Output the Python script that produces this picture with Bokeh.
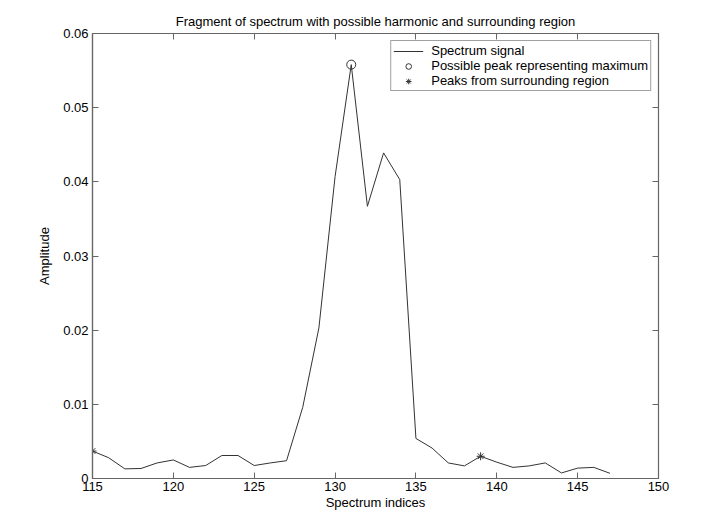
from bokeh.plotting import figure
from bokeh.models import (LinearAxis, FixedTicker, CustomJSTickFormatter, Legend,
                          LegendItem, Range1d)
from bokeh.embed import file_html
from bokeh.resources import INLINE

# ---- data ----
indices = [115, 116, 117, 118, 119, 120, 121, 122, 123, 124, 125, 126, 127, 128, 129,
           130, 131, 132, 133, 134, 135, 136, 137, 138, 139, 140, 141, 142, 143, 144,
           145, 146, 147]
amplitude = [0.0037, 0.0028, 0.0013, 0.00135, 0.0021, 0.0025, 0.0015, 0.00175, 0.0031,
             0.0031, 0.00175, 0.0021, 0.0024, 0.0096, 0.0203, 0.0407, 0.0558, 0.0367,
             0.0439, 0.0403, 0.0054, 0.0041, 0.0021, 0.0017, 0.0030, 0.0022, 0.0015,
             0.0017, 0.0021, 0.00075, 0.0014, 0.0015, 0.0007]
peak_x = [131]
peak_y = [0.0558]
surround_x = [115, 139]
surround_y = [0.0037, 0.0030]
x_ticks = [115, 120, 125, 130, 135, 140, 145, 150]
y_ticks = [0, 0.01, 0.02, 0.03, 0.04, 0.05, 0.06]

FONT = "Liberation Sans"
FS = "13px"
AX_COL = "#666666"
LINE_COL = "#333333"

p = figure(width=700, height=512, output_backend="svg", toolbar_location=None,
           x_range=Range1d(115, 150), y_range=Range1d(0, 0.06),
           min_border_left=92, min_border_right=42, min_border_top=33,
           min_border_bottom=34, x_axis_label="Spectrum indices",
           y_axis_label="Amplitude")
p.title.text = "Fragment of spectrum with possible harmonic and surrounding region"
p.title.align = "center"
p.title.text_font = FONT
p.title.text_font_size = FS
p.title.text_font_style = "normal"
p.title.text_color = "black"

p.grid.visible = False
p.outline_line_color = AX_COL
p.outline_line_width = 1.2

fmt = CustomJSTickFormatter(code="return (Math.round(tick*100)/100).toString();")
p.yaxis.formatter = fmt
p.xaxis.ticker = FixedTicker(ticks=x_ticks)
p.yaxis.ticker = FixedTicker(ticks=y_ticks)

for ax in p.xaxis + p.yaxis:
    ax.major_tick_in = 6
    ax.major_tick_out = 0
    ax.minor_tick_line_color = None
    ax.axis_line_color = AX_COL
    ax.axis_line_width = 1.2
    ax.major_tick_line_color = AX_COL
    ax.major_label_text_font = FONT
    ax.major_label_text_font_size = FS
    ax.major_label_text_color = "black"
    ax.axis_label_text_font = FONT
    ax.axis_label_text_font_size = FS
    ax.axis_label_text_font_style = "normal"
    ax.axis_label_text_color = "black"
p.xaxis.major_label_standoff = 3
p.xaxis.axis_label_standoff = 1
p.yaxis.major_label_standoff = 4
p.yaxis.axis_label_standoff = 8

blank = CustomJSTickFormatter(code="return '';")
for loc, ticks in (("right", y_ticks), ("above", x_ticks)):
    ax = LinearAxis(ticker=FixedTicker(ticks=ticks), formatter=blank)
    ax.major_tick_in = 6
    ax.major_tick_out = 0
    ax.minor_tick_line_color = None
    ax.axis_line_color = AX_COL
    ax.major_tick_line_color = AX_COL
    ax.major_label_standoff = 0
    p.add_layout(ax, loc)

r_line = p.line(indices, amplitude, line_color=LINE_COL, line_width=1)
r_peak = p.scatter(peak_x, peak_y, marker="circle", size=9, fill_color=None,
                   line_color=LINE_COL, line_width=1)
r_sur = p.scatter(surround_x, surround_y, marker="asterisk", size=8,
                  line_color=LINE_COL, line_width=1)

legend = Legend(items=[
    LegendItem(label="Spectrum signal", renderers=[r_line]),
    LegendItem(label="Possible peak representing maximum", renderers=[r_peak]),
    LegendItem(label="Peaks from surrounding region", renderers=[r_sur]),
], location="top_right")
legend.label_text_font = FONT
legend.label_text_font_size = FS
legend.label_text_color = "black"
legend.glyph_width = 30
legend.glyph_height = 14
legend.label_height = 14
legend.label_standoff = 8
legend.spacing = 0
legend.padding = 2
legend.margin = 7
legend.border_line_color = "#444444"
legend.border_line_width = 1
legend.background_fill_alpha = 1
p.add_layout(legend)

open("out.html", "w").write(file_html(p, INLINE))
